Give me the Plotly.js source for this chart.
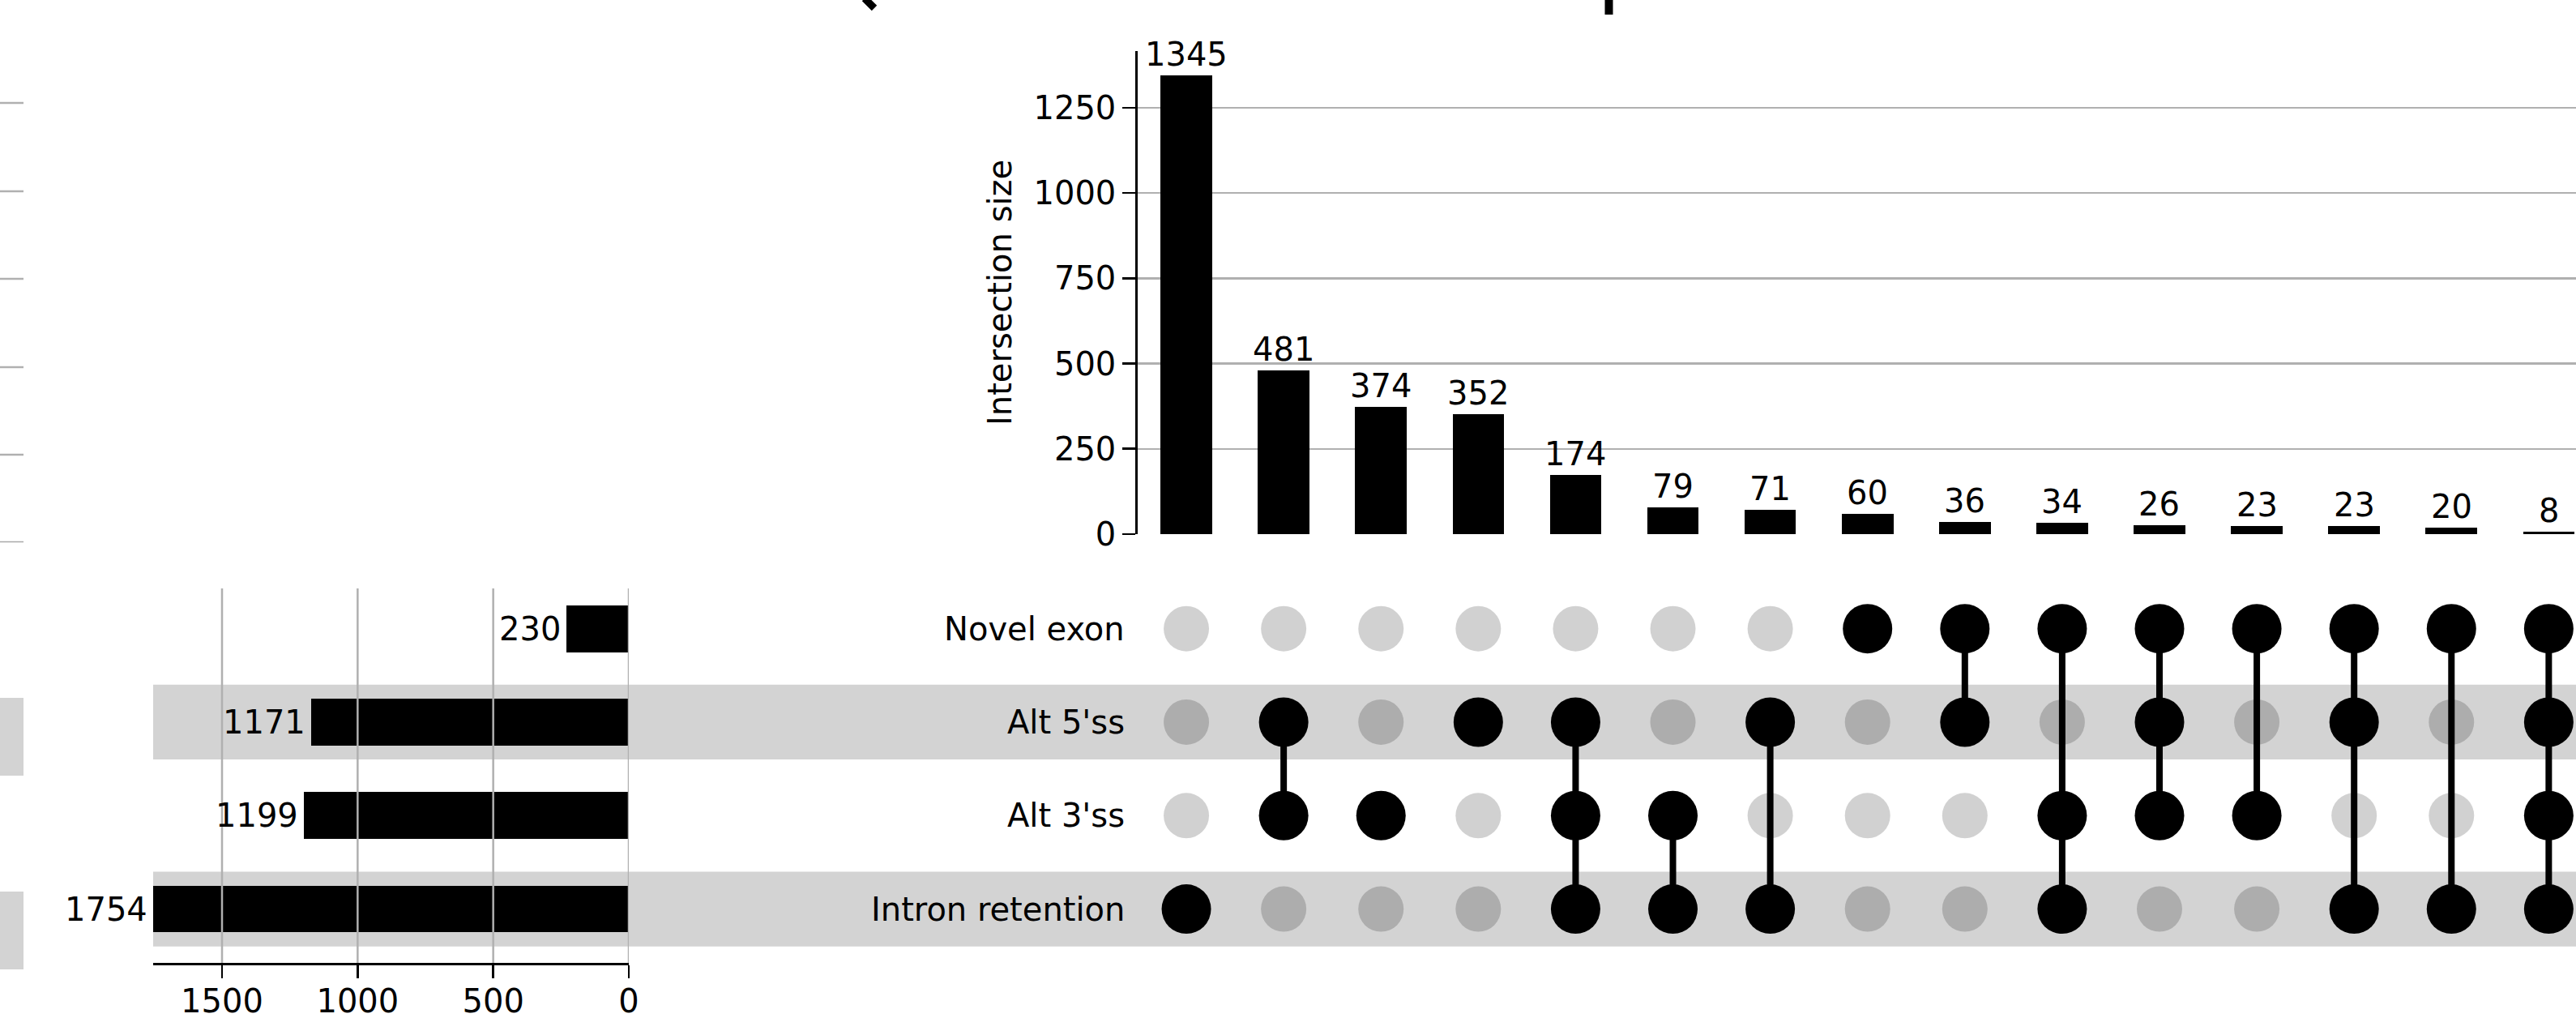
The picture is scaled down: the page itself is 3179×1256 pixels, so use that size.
<!DOCTYPE html>
<html>
<head>
<meta charset="utf-8">
<script src="https://cdn.plot.ly/plotly-3.0.1.min.js"></script>
<style>
  html, body { margin: 0; padding: 0; background: #ffffff; }
  #chart { width: 3179px; height: 1256px; }
</style>
</head>
<body>
<div id="chart"></div>
<script>
// Splicing event categories (matrix rows, top to bottom)
const setNames = ["Novel exon", "Alt 5'ss", "Alt 3'ss", "Intron retention"];
// Total number of events per category
const setTotals = [230, 1171, 1199, 1754];

// Intersection sizes, ordered by size
const intersectionSizes = [1345, 481, 374, 352, 174, 79, 71, 60, 36, 34, 26, 23, 23, 20, 8];

// Membership of each intersection (1 = category is part of the intersection)
const memberNovelExon      = [0, 0, 0, 0, 0, 0, 0, 1, 1, 1, 1, 1, 1, 1, 1];
const memberAlt5ss         = [0, 1, 0, 1, 1, 0, 1, 0, 1, 0, 1, 0, 1, 0, 1];
const memberAlt3ss         = [0, 1, 1, 0, 1, 1, 0, 0, 0, 1, 1, 1, 0, 0, 1];
const memberIntronRetained = [1, 0, 0, 0, 1, 1, 1, 0, 0, 1, 0, 0, 1, 1, 1];

// Axis ticks
const sizeTicks = [0, 250, 500, 750, 1000, 1250];
const totalTicks = [0, 500, 1000, 1500];

const membership = [memberNovelExon, memberAlt5ss, memberAlt3ss, memberIntronRetained];

// ---- page geometry (pixels) ----
const W = 3179, H = 1256;
const px = v => v / W;
const py = v => 1 - v / H;

const FONT = "DejaVu Sans";
const FS = 40;
const INACTIVE = "rgba(0,0,0,0.18)";
const GRID = "#b0b0b0";

const cols = intersectionSizes.map((_, i) => i);
const rowRange = [3.576, -0.431];

const traces = [];

// Intersection size bars
traces.push({
  type: "bar", x: cols, y: intersectionSizes, xaxis: "x", yaxis: "y",
  marker: { color: "#000000", line: { width: 0 } },
  width: 0.53, hoverinfo: "skip"
});

// Category total bars (horizontal, growing leftwards)
traces.push({
  type: "bar", orientation: "h", x: setTotals, y: setNames.map((_, r) => r),
  xaxis: "x2", yaxis: "y2",
  marker: { color: "#000000", line: { width: 0 } },
  width: 0.5, hoverinfo: "skip"
});

// Connector lines between member dots
const lx = [], ly = [];
cols.forEach(c => {
  const rows = membership.map((m, r) => m[c] ? r : null).filter(r => r !== null);
  if (rows.length > 1) {
    lx.push(c, c, null);
    ly.push(Math.min(...rows), Math.max(...rows), null);
  }
});
traces.push({
  type: "scatter", mode: "lines", x: lx, y: ly, xaxis: "x3", yaxis: "y3",
  line: { color: "#000000", width: 8 }, hoverinfo: "skip", connectgaps: false
});

// Matrix dots
const offX = [], offY = [], onX = [], onY = [];
membership.forEach((m, r) => {
  m.forEach((v, c) => {
    if (v) { onX.push(c); onY.push(r); } else { offX.push(c); offY.push(r); }
  });
});
traces.push({
  type: "scatter", mode: "markers", x: offX, y: offY, xaxis: "x3", yaxis: "y3",
  marker: { color: INACTIVE, size: 56, line: { width: 0 } }, hoverinfo: "skip"
});
traces.push({
  type: "scatter", mode: "markers", x: onX, y: onY, xaxis: "x3", yaxis: "y3",
  marker: { color: "#000000", size: 61, line: { width: 0 } }, hoverinfo: "skip"
});

// ---- annotations ----
const annotations = [];
intersectionSizes.forEach((v, i) => {
  annotations.push({
    xref: "x", yref: "y", x: i, y: v, text: String(v),
    showarrow: false, xanchor: "center", yanchor: "bottom", yshift: 1,
    font: { family: FONT, size: FS, color: "#000" }
  });
});
setTotals.forEach((v, r) => {
  annotations.push({
    xref: "x2", yref: "y2", x: v, y: r, text: String(v),
    showarrow: false, xanchor: "right", yanchor: "middle", xshift: -5,
    font: { family: FONT, size: FS, color: "#000" }
  });
});
setNames.forEach((name, r) => {
  annotations.push({
    xref: "paper", yref: "y3", x: px(1390), y: r, text: name,
    showarrow: false, xanchor: "right", yanchor: "middle",
    font: { family: FONT, size: FS, color: "#000" }
  });
});
annotations.push({
  xref: "paper", yref: "paper", x: px(1234), y: py(361), text: "Intersection size",
  textangle: -90, showarrow: false, xanchor: "center", yanchor: "middle",
  font: { family: FONT, size: FS, color: "#000" }
});

// ---- shapes ----
const shapes = [];
// alternating row shading across totals and matrix
setNames.forEach((_, r) => {
  if (r % 2 === 1) {
    shapes.push({
      type: "rect", xref: "paper", yref: "y3", x0: px(189), x1: 1, y0: r - 0.4, y1: r + 0.4,
      fillcolor: "#d3d3d3", line: { width: 0 }, layer: "below"
    });
  }
});
// vertical grid over the total bars
totalTicks.forEach(t => {
  shapes.push({
    type: "line", xref: "x2", yref: "paper", x0: t, x1: t, y0: py(1188), y1: py(726),
    line: { color: GRID, width: 2.5 }, layer: "above"
  });
});
// edge of the neighbouring panel on the left
[127, 236, 344, 453, 561].forEach(y => {
  shapes.push({
    type: "line", xref: "paper", yref: "paper", x0: 0, x1: px(29), y0: py(y), y1: py(y),
    line: { color: GRID, width: 2.5 }, layer: "below"
  });
});
shapes.push({
  type: "line", xref: "paper", yref: "paper", x0: 0, x1: px(29), y0: py(668.5), y1: py(668.5),
  line: { color: "#a8a8a8", width: 1.5 }, layer: "below"
});
[[861, 957], [1100, 1196]].forEach(([a, b]) => {
  shapes.push({
    type: "rect", xref: "paper", yref: "paper", x0: 0, x1: px(29), y0: py(b), y1: py(a),
    fillcolor: "#d3d3d3", line: { width: 0 }, layer: "below"
  });
});
// lower strokes of the heading above the frame
shapes.push({
  type: "line", xref: "paper", yref: "paper", x0: px(1067), x1: px(1079), y0: py(-2), y1: py(10),
  line: { color: "#000", width: 9 }, layer: "above"
});
shapes.push({
  type: "line", xref: "paper", yref: "paper", x0: px(1985.5), x1: px(1985.5), y0: py(-2), y1: py(18),
  line: { color: "#000", width: 10 }, layer: "above"
});

const xrangeTop = [-0.5, 14.28];

const layout = {
  width: W, height: H,
  margin: { l: 0, r: 0, t: 0, b: 0, pad: 0 },
  paper_bgcolor: "#ffffff",
  plot_bgcolor: "rgba(0,0,0,0)",
  showlegend: false,
  bargap: 0,
  font: { family: FONT, size: FS, color: "#000" },
  xaxis: {
    domain: [px(1404), 1], range: xrangeTop, anchor: "y",
    showticklabels: false, showgrid: false, zeroline: false, showline: false, ticks: "",
    fixedrange: true
  },
  yaxis: {
    domain: [py(659), py(63)], range: [0, 1416], anchor: "x",
    tickmode: "array", tickvals: sizeTicks, ticktext: sizeTicks.map(String),
    ticks: "outside", ticklen: 16, tickwidth: 2.7, tickcolor: "#000",
    showline: true, linewidth: 2.7, linecolor: "#000",
    showgrid: true, gridcolor: GRID, gridwidth: 2.5, zeroline: false,
    tickfont: { family: FONT, size: FS, color: "#000" }
  },
  xaxis2: {
    domain: [px(189), px(776)], range: [1754, 0], anchor: "y2",
    tickmode: "array", tickvals: totalTicks, ticktext: totalTicks.map(String),
    ticks: "outside", ticklen: 16, tickwidth: 2.7, tickcolor: "#000",
    showline: true, linewidth: 3, linecolor: "#000",
    showgrid: false, zeroline: false, ticklabelstandoff: -6,
    tickfont: { family: FONT, size: FS, color: "#000" }
  },
  yaxis2: {
    domain: [py(1188), py(726)], range: rowRange, anchor: "x2", visible: false
  },
  xaxis3: {
    domain: [px(1404), 1], range: xrangeTop, anchor: "y3", visible: false
  },
  yaxis3: {
    domain: [py(1188), py(726)], range: rowRange, anchor: "x3", visible: false
  },
  annotations: annotations,
  shapes: shapes
};

Plotly.newPlot("chart", traces, layout, { staticPlot: true, displayModeBar: false });
</script>
</body>
</html>
